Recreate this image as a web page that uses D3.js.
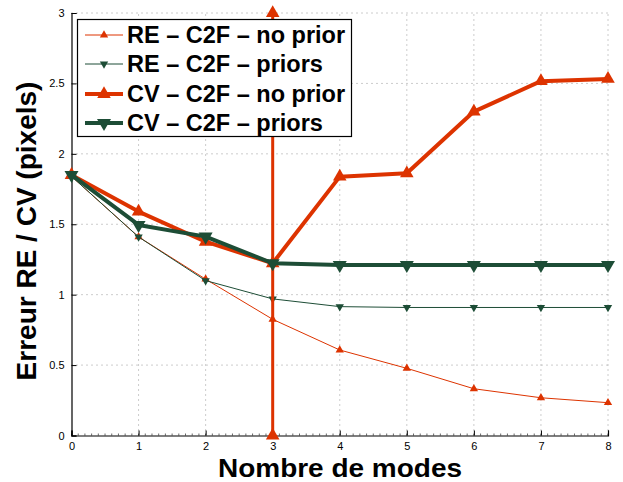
<!DOCTYPE html>
<html><head><meta charset="utf-8">
<script src="https://cdn.jsdelivr.net/npm/d3@7"></script>
<style>body{margin:0;background:#fff}svg{display:block}</style>
</head><body>
<svg id="c" width="623" height="482"></svg>
<script>
const modes = [0,1,2,3,4,5,6,7,8];
const reNoPrior = [1.84,1.41,1.11,0.825,0.607,0.477,0.332,0.268,0.233];
const rePriors  = [1.84,1.41,1.10,0.97,0.915,0.909,0.909,0.909,0.909];
const cvNoPrior = [1.85,1.59,1.376,1.223,1.838,1.862,2.30,2.516,2.532];
const cvPriors  = [1.85,1.495,1.412,1.223,1.211,1.211,1.211,1.211,1.211];
const spikeX = [3,3];
const spikeY = [0,3];
const xTicks = [0,1,2,3,4,5,6,7,8];
const yTicks = [0,0.5,1,1.5,2,2.5,3];
const yTickLabels = ["0","0.5","1","1.5","2","2.5","3"];
const legendLabels = ["RE – C2F – no prior","RE – C2F – priors","CV – C2F – no prior","CV – C2F – priors"];
const RED = "#dd3300", GREEN = "#1d4d36";

const svg = d3.select("#c");
const L = 71.5, R = 608, T = 13, B = 435.5;
const x = d3.scaleLinear().domain([0,8]).range([L,R]);
const y = d3.scaleLinear().domain([0,3]).range([B,T]);

// grid
const g = svg.append("g");
g.selectAll(".gx").data(xTicks.filter(d=>d>0)).join("line")
  .attr("x1",d=>x(d)).attr("x2",d=>x(d)).attr("y1",B).attr("y2",T)
  .attr("stroke","#999").attr("stroke-width",1).attr("stroke-dasharray","1,4");
g.selectAll(".gy").data(yTicks.filter(d=>d>0)).join("line")
  .attr("y1",d=>y(d)).attr("y2",d=>y(d)).attr("x1",L).attr("x2",R)
  .attr("stroke","#999").attr("stroke-width",1).attr("stroke-dasharray","1,4");

// axes
const xa = svg.append("g").attr("transform",`translate(0,${B})`)
  .call(d3.axisBottom(x).tickValues(xTicks).tickSize(-5).tickPadding(7).tickFormat(d3.format("d")));
const ya = svg.append("g").attr("transform",`translate(${L},0)`)
  .call(d3.axisLeft(y).tickValues(yTicks).tickSize(-5).tickPadding(7).tickFormat((d,i)=>yTickLabels[i]));
[xa,ya].forEach(a=>{
  a.select(".domain").attr("stroke","#000").attr("stroke-width",1.2);
  a.selectAll(".tick line").attr("stroke","#000");
  a.selectAll("text").attr("font-family","Liberation Sans, Arial, sans-serif").attr("font-size",11).attr("fill","#000");
});
// minor ticks on x axis
svg.append("g").selectAll("line").data(d3.range(0,8.001,0.1)).join("line")
  .attr("x1",d=>x(d)).attr("x2",d=>x(d)).attr("y1",B).attr("y2",B-2)
  .attr("stroke","#000").attr("stroke-width",0.6);

const line = d3.line().x(d=>x(d[0])).y(d=>y(d[1]));
function series(vals, color, w, down, msize){
  const pts = modes.map((m,i)=>[m, vals[i]]);
  svg.append("path").datum(pts).attr("d",line).attr("fill","none")
    .attr("stroke",color).attr("stroke-width",w).attr("stroke-linejoin","round");
  svg.append("g").selectAll("path").data(pts).join("path")
    .attr("d",d3.symbol(d3.symbolTriangle, msize))
    .attr("transform",d=>`translate(${x(d[0])},${y(d[1])})${down?" rotate(180)":""}`)
    .attr("fill",color);
}
series(reNoPrior, RED, 1, false, 30);
series(rePriors, GREEN, 1, true, 30);
series(cvNoPrior, RED, 4, false, 80);
// vertical spike of CV no prior
const sp = spikeX.map((v,i)=>[v, spikeY[i]]);
svg.append("path").datum(sp).attr("d",line).attr("stroke",RED).attr("stroke-width",3).attr("fill","none");
svg.append("g").selectAll("path").data(sp).join("path")
  .attr("d",d3.symbol(d3.symbolTriangle,80))
  .attr("transform",d=>`translate(${x(d[0])},${y(d[1])})`).attr("fill",RED);
series(cvPriors, GREEN, 4, true, 85);

// legend
const lg = svg.append("g");
lg.append("rect").attr("x",77.5).attr("y",19.5).attr("width",274).attr("height",117)
  .attr("fill","#fff").attr("stroke","#000").attr("stroke-width",1.2);
const legStyle = [[RED,1,false,30],[GREEN,1,true,30],[RED,4,false,80],[GREEN,4,true,85]];
const rowY = [35,64,94,123];
legendLabels.forEach((t,i)=>{
  const [c,w,down,ms] = legStyle[i];
  lg.append("line").attr("x1",85).attr("x2",123).attr("y1",rowY[i]).attr("y2",rowY[i])
    .attr("stroke",c).attr("stroke-width",w);
  lg.append("path").attr("d",d3.symbol(d3.symbolTriangle,ms))
    .attr("transform",`translate(104,${rowY[i]})${down?" rotate(180)":""}`).attr("fill",c);
  lg.append("text").attr("x",127).attr("y",rowY[i]).attr("dy","0.36em")
    .attr("font-family","Liberation Sans, Arial, sans-serif").attr("font-weight","bold")
    .attr("font-size",23.5).attr("fill","#000").text(t);
});

// axis labels
svg.append("text").attr("x",340).attr("y",476.5).attr("text-anchor","middle")
  .attr("font-family","Liberation Sans, Arial, sans-serif").attr("font-weight","bold")
  .attr("font-size",25.5).attr("textLength",244).attr("lengthAdjust","spacingAndGlyphs")
  .text("Nombre de modes");
svg.append("text").attr("transform","translate(36,231) rotate(-90)").attr("text-anchor","middle")
  .attr("font-family","Liberation Sans, Arial, sans-serif").attr("font-weight","bold")
  .attr("font-size",28).text("Erreur RE / CV (pixels)");
</script>
</body></html>
